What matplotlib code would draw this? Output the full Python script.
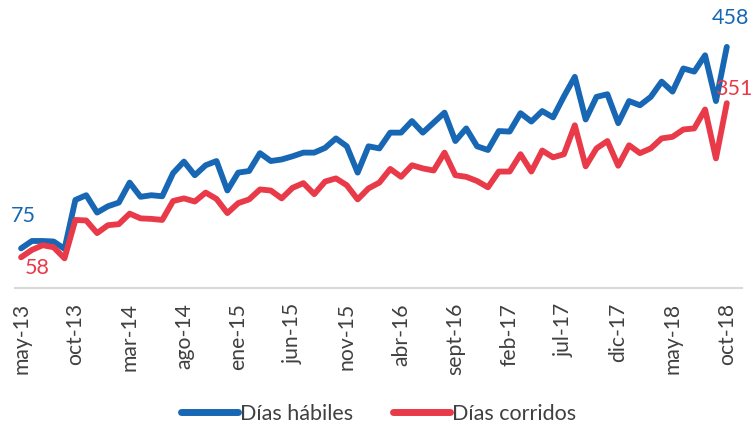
import matplotlib
matplotlib.use("Agg")
import matplotlib.pyplot as plt

months = ["may-13", "jun-13", "jul-13", "ago-13", "sept-13", "oct-13", "nov-13", "dic-13",
          "ene-14", "feb-14", "mar-14", "abr-14", "may-14", "jun-14", "jul-14", "ago-14",
          "sept-14", "oct-14", "nov-14", "dic-14", "ene-15", "feb-15", "mar-15", "abr-15",
          "may-15", "jun-15", "jul-15", "ago-15", "sept-15", "oct-15", "nov-15", "dic-15",
          "ene-16", "feb-16", "mar-16", "abr-16", "may-16", "jun-16", "jul-16", "ago-16",
          "sept-16", "oct-16", "nov-16", "dic-16", "ene-17", "feb-17", "mar-17", "abr-17",
          "may-17", "jun-17", "jul-17", "ago-17", "sept-17", "oct-17", "nov-17", "dic-17",
          "ene-18", "feb-18", "mar-18", "abr-18", "may-18", "jun-18", "jul-18", "ago-18",
          "sept-18", "oct-18"]

dias_habiles = [75, 89, 89, 88, 74, 167, 176, 143, 155, 162, 200, 173,
                176, 174, 218, 240, 214, 233, 241, 185, 219, 222, 256, 241,
                244, 250, 257, 257, 266, 284, 269, 219, 269, 265, 295, 295,
                317, 295, 314, 333, 279, 303, 269, 262, 298, 297, 332, 316,
                336, 324, 364, 401, 320, 363, 368, 313, 355, 347, 363, 392,
                373, 417, 411, 442, 355, 458]

dias_corridos = [58, 72, 81, 77, 56, 129, 128, 104, 119, 121, 141, 132,
                 131, 129, 165, 170, 164, 181, 169, 142, 161, 168, 187, 185,
                 170, 190, 199, 178, 202, 208, 195, 168, 189, 200, 226, 211,
                 233, 227, 223, 257, 214, 211, 203, 191, 221, 221, 254, 221,
                 261, 248, 254, 309, 231, 265, 279, 232, 271, 256, 265, 284,
                 287, 301, 303, 339, 246, 351]

series_names = ["Días hábiles", "Días corridos"]

blue = "#1767B4"
red = "#E83A48"

plt.rcParams['font.family'] = ['Lato', 'DejaVu Sans']

fig = plt.figure(figsize=(7.52, 4.29), dpi=100)
ax = fig.add_axes([15 / 752, (429 - 287.8) / 429, (742 - 15) / 752, 263 / 429])

x = list(range(len(months)))
ax.plot(x, dias_habiles, color=blue, lw=4.2, solid_joinstyle='round',
        solid_capstyle='round', label=series_names[0], zorder=3)
ax.plot(x, dias_corridos, color=red, lw=4.2, solid_joinstyle='round',
        solid_capstyle='round', label=series_names[1], zorder=3)

ax.set_xlim(-0.56, 66.4)
ax.set_ylim(0, 500)

for s in ["top", "right", "left"]:
    ax.spines[s].set_visible(False)
ax.spines["bottom"].set_color("#d9d9d9")
ax.spines["bottom"].set_linewidth(1.5)
ax.set_yticks([])

tick_idx = list(range(0, len(months), 5))
ax.set_xticks(tick_idx)
ax.set_xticklabels([months[i] for i in tick_idx], rotation=90, fontsize=15.2,
                   color="#404040")
ax.tick_params(axis='x', length=0, pad=11)

# data labels
ax.annotate(str(dias_habiles[0]), (0, dias_habiles[0]), xytext=(2, 32),
            textcoords='offset pixels', ha='center', va='center',
            color=blue, fontsize=15.5)
ax.annotate(str(dias_corridos[0]), (0, dias_corridos[0]), xytext=(16, -11),
            textcoords='offset pixels', ha='center', va='center',
            color=red, fontsize=15.5)
ax.annotate(str(dias_habiles[-1]), (len(months) - 1, dias_habiles[-1]), xytext=(4, 29),
            textcoords='offset pixels', ha='center', va='center',
            color=blue, fontsize=15.5)
ax.annotate(str(dias_corridos[-1]), (len(months) - 1, dias_corridos[-1]), xytext=(7, 14),
            textcoords='offset pixels', ha='center', va='center',
            color=red, fontsize=15.5)

leg = fig.legend(loc='center', bbox_to_anchor=(0.503, 1 - 414 / 429), ncol=2,
                 frameon=False, fontsize=15.5, handlelength=2.65, handletextpad=0.1,
                 columnspacing=1.85)
for t in leg.get_texts():
    t.set_color("#404040")
for h in leg.get_lines():
    h.set_linewidth(5)
    h.set_solid_capstyle('round')

fig.savefig("out.png", dpi=100)
